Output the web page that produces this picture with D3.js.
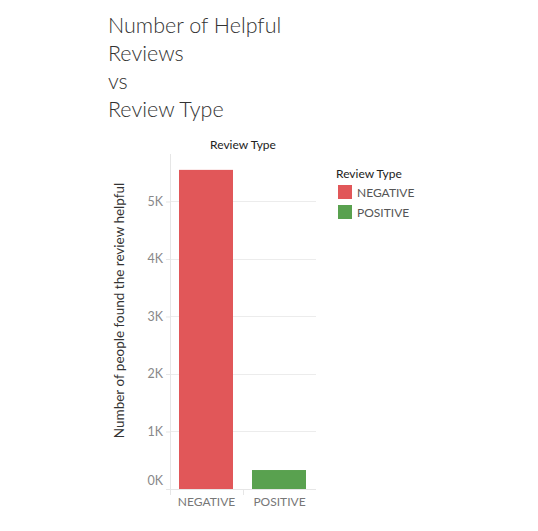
<!DOCTYPE html>
<html><head><meta charset="utf-8">
<script src="https://cdn.jsdelivr.net/npm/d3@7"></script>
<style>body{margin:0;background:#fff;} text{font-family:Lato,"Noto Sans",sans-serif;}</style>
</head><body>
<svg id="c" width="538" height="531"></svg>
<script>
const categories = ["NEGATIVE", "POSITIVE"];
const values = [5550, 330];
const colors = ["#e15759", "#59a14f"];
const yTicks = [0, 1000, 2000, 3000, 4000, 5000];
const titleLines = ["Number of Helpful", "Reviews", "vs", "Review Type"];

const svg = d3.select("#c");
const L = 170, R = 316, T = 154, B = 489;

svg.selectAll("text.title").data(titleLines).join("text")
  .attr("x", 108).attr("y", (d,i)=>33+i*28)
  .attr("font-size", 21.5).attr("font-weight", 300).attr("fill", "#333").text(d=>d);

const x = d3.scaleBand().domain(categories).range([L, R]).paddingInner(0).paddingOuter(0);
const y = d3.scaleLinear().domain([0, 5826]).range([B, T]);

svg.selectAll("line.grid").data(yTicks).join("line")
  .attr("x1", L).attr("x2", R).attr("y1", d=>Math.round(y(d))+0.5).attr("y2", d=>Math.round(y(d))+0.5)
  .attr("stroke", "#ececec").attr("stroke-width", 1);
svg.append("line").attr("x1", L+0.5).attr("x2", L+0.5).attr("y1", T).attr("y2", B+6).attr("stroke", "#e6e6e6");
const yAxis = svg.append("g").attr("transform", `translate(${L},0)`)
  .call(d3.axisLeft(y).tickValues(yTicks).tickFormat(d=>(d/1000)+"K").tickSize(4).tickPadding(3));
yAxis.select(".domain").remove();
yAxis.selectAll("line").attr("stroke", "#e6e6e6");
yAxis.selectAll("text").attr("font-size", 12.5).attr("fill", "#888").attr("font-family", "Lato,'Noto Sans',sans-serif")
  .attr("dy", d=>d===0 ? "-0.35em" : "0.32em");

svg.selectAll("rect.bar").data(categories).join("rect")
  .attr("x", d=>x(d)+9).attr("width", x.bandwidth()-19)
  .attr("y", (d,i)=>y(values[i])).attr("height", (d,i)=>B - y(values[i]))
  .attr("fill", (d,i)=>colors[i]);

const xAxis = svg.append("g").attr("transform", `translate(0,${B})`)
  .call(d3.axisBottom(x).tickSize(0).tickPadding(8));
xAxis.select(".domain").remove();
xAxis.selectAll("text").attr("font-size", 12).attr("fill", "#777").attr("font-family", "Lato,'Noto Sans',sans-serif");
svg.selectAll("line.sep").data([L, x("POSITIVE")]).join("line")
  .attr("x1", d=>d+0.5).attr("x2", d=>d+0.5).attr("y1", B).attr("y2", B+6).attr("stroke", "#e6e6e6");
svg.append("line").attr("x1", L).attr("x2", R).attr("y1", B+0.5).attr("y2", B+0.5).attr("stroke", "#e6e6e6");

svg.append("text").attr("x", (L+R)/2).attr("y", 149).attr("text-anchor", "middle")
  .attr("font-size", 12).attr("font-weight", 400).attr("fill", "#222").text("Review Type");

svg.append("text").attr("transform", `translate(124,${(T+B)/2-11}) rotate(-90)`).attr("text-anchor", "middle")
  .attr("font-size", 13.5).attr("font-weight", 400).attr("fill", "#333").text("Number of people found the review helpful");

svg.append("text").attr("x", 336).attr("y", 178).attr("font-size", 12).attr("font-weight", 400).attr("fill", "#222").text("Review Type");
const lg = svg.selectAll("g.lg").data(categories).join("g").attr("transform", (d,i)=>`translate(338,${185+i*20})`);
lg.append("rect").attr("width", 14).attr("height", 14).attr("fill", (d,i)=>colors[i]);
lg.append("text").attr("x", 19).attr("y", 11.5).attr("font-size", 12).attr("fill", "#555").text(d=>d);
</script>
</body></html>
